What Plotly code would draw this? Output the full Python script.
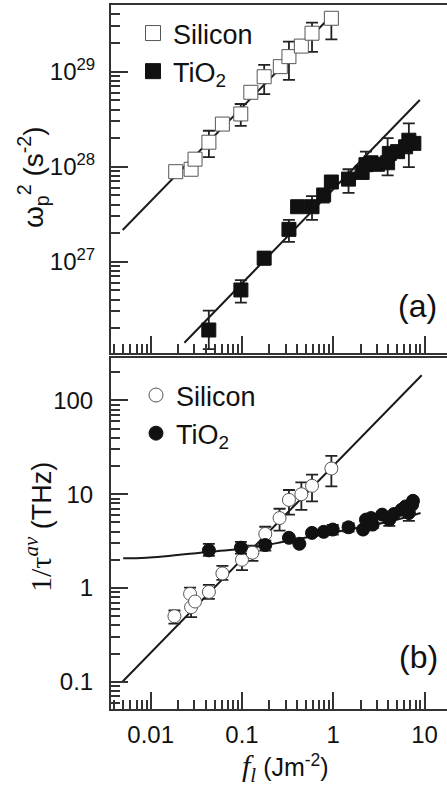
import plotly.graph_objects as go

# ---------------- data ----------------
# panel (a): plasma frequency squared (s^-2) vs fluence (J m^-2)
si_a_x = [0.0188, 0.0277, 0.0306, 0.0434, 0.061, 0.097, 0.125, 0.175, 0.263, 0.327, 0.447, 0.585, 0.953]
si_a_y = [8.86e27, 9.4e27, 1.2e28, 1.81e28, 2.81e28, 3.59e28, 6.07e28, 8.85e28, 1.13e29, 1.44e29, 1.86e29, 2.54e29, 3.65e29]
si_a_hi = [None, None, None, 2.39e28, None, 4.57e28, 6.7e28, 1.18e29, None, 2.07e29, None, 3.28e29, None]
si_a_lo = [None, None, None, 1.26e28, None, 2.69e28, None, 5.8e28, None, 8.2e28, None, 1.62e29, 2.19e29]

ti_a_x = [0.0433, 0.0973, 0.175, 0.327, 0.407, 0.585, 0.785, 0.953, 1.47, 2.07, 2.28, 2.59, 3.06,
          3.94, 4.11, 5.07, 6.2, 6.73, 7.64]
ti_a_y = [1.91e26, 5.04e26, 1.09e27, 2.19e27, 3.79e27, 3.79e27, 5.04e27, 6.9e27, 7.4e27, 8.7e27,
          1.05e28, 1.1e28, 1.06e28, 1.1e28, 1.38e28, 1.44e28, 1.62e28, 1.9e28, 1.76e28]
ti_a_hi = [3.05e26, 6.4e26, 1.25e27, 2.75e27, None, 4.9e27, None, None, 9.4e27, None,
           1.44e28, None, None, 2.0e28, None, None, None, 2.86e28, None]
ti_a_lo = [1.2e26, 3.7e26, 0.93e27, 1.62e27, None, 2.75e27, 4.2e27, None, 5.3e27, None,
           None, None, None, 8.1e27, None, None, None, 9.9e27, None]

# fit lines (a), endpoints
si_a_fit_x = [0.00493, 0.970]
si_a_fit_y = [2.16e27, 3.95e29]
ti_a_fit_x = [0.0234, 8.87]
ti_a_fit_y = [1.40e26, 5.04e28]

# panel (b): scattering rate 1/tau (THz) vs fluence
si_b_x = [0.0182, 0.027, 0.0277, 0.0306, 0.0434, 0.061, 0.1, 0.13, 0.18, 0.258, 0.327, 0.447, 0.585, 0.953]
si_b_y = [0.50, 0.865, 0.624, 0.717, 0.908, 1.43, 2.0, 2.38, 3.77, 5.57, 8.7, 10.0, 12.3, 18.8]
si_b_hi = [0.575, 1.01, None, None, 1.08, 1.72, 2.58, 2.82, 4.5, 7.0, 11.1, 13.4, 16.2, 25.6]
si_b_lo = [0.417, None, 0.49, None, 0.766, 1.22, 1.55, 1.95, 3.03, 4.1, 6.05, 6.8, 8.4, 12.1]

ti_b_x = [0.0434, 0.0973, 0.18, 0.327, 0.425, 0.585, 0.785, 0.987, 1.47, 2.12, 2.28, 2.59, 2.7,
          3.43, 4.11, 4.62, 5.6, 6.2, 6.73, 7.3, 7.47]
ti_b_y = [2.52, 2.69, 2.87, 3.43, 2.96, 3.87, 3.97, 4.2, 4.44, 4.2, 5.36, 5.57, 4.74,
          6.06, 5.36, 6.15, 6.84, 7.41, 6.3, 7.73, 8.5]
ti_b_hi = [2.95, 3.1, 3.2, None, None, 4.15, None, 4.7, 4.9, None, None, None, None,
           None, 6.3, None, None, None, 7.5, None, None]
ti_b_lo = [2.2, 2.32, 2.5, None, None, 3.6, None, 3.7, 4.0, None, None, None, 4.35,
           None, 4.6, None, None, None, 5.2, None, None]

si_b_fit_x = [0.00493, 9.3]
si_b_fit_y = [0.1005, 186.0]
ti_b_fit_x = [0.005, 0.009, 0.0448, 0.123, 0.338, 1.3, 4.6, 9.04]
ti_b_fit_y = [2.07, 2.10, 2.44, 2.68, 3.21, 4.10, 5.24, 6.3]

# axis ticks
x_major = [0.01, 0.1, 1, 10]
x_major_text = ["0.01", "0.1", "1", "10"]
ya_major = [1e27, 1e28, 1e29]
ya_major_text = ["10<sup>27</sup>", "10<sup>28</sup>", "10<sup>29</sup>"]
yb_major = [0.1, 1, 10, 100]
yb_major_text = ["0.1", "1", "10", "100"]


def minors(lo_exp, hi_exp):
    vals = []
    for e in range(lo_exp, hi_exp + 1):
        for m in range(2, 10):
            vals.append(m * 10.0 ** e)
    return vals


def err(vals, bounds, upper):
    out = []
    for v, b in zip(vals, bounds):
        if b is None:
            out.append(0)
        else:
            out.append((b - v) if upper else (v - b))
    return out


SANS = "Liberation Sans, Arial, sans-serif"
INK = "#1a1a1a"

fig = go.Figure()


def add_points(x, y, hi, lo, xa, ya, symbol, filled, size):
    fig.add_trace(go.Scatter(
        x=x, y=y, mode="markers", xaxis=xa, yaxis=ya, showlegend=False,
        marker=dict(symbol=symbol, size=size,
                    color="#111111" if filled else "white",
                    line=dict(color="#111111" if filled else "#555555", width=1)),
        error_y=dict(type="data", symmetric=False,
                     array=err(y, hi, True), arrayminus=err(y, lo, False),
                     color="#222222", thickness=1.8, width=6),
    ))


def add_line(x, y, xa, ya, shape="linear"):
    fig.add_trace(go.Scatter(x=x, y=y, mode="lines", xaxis=xa, yaxis=ya, showlegend=False,
                             line=dict(color=INK, width=2, shape=shape)))


# panel (a)
add_line(si_a_fit_x, si_a_fit_y, "x", "y")
add_line(ti_a_fit_x, ti_a_fit_y, "x", "y")
add_points(si_a_x, si_a_y, si_a_hi, si_a_lo, "x", "y", "square", False, 14)
add_points(ti_a_x, ti_a_y, ti_a_hi, ti_a_lo, "x", "y", "square", True, 14)
# panel (b)
add_line(si_b_fit_x, si_b_fit_y, "x2", "y2")
add_line(ti_b_fit_x, ti_b_fit_y, "x2", "y2", shape="spline")
add_points(si_b_x, si_b_y, si_b_hi, si_b_lo, "x2", "y2", "circle", False, 13)
add_points(ti_b_x, ti_b_y, ti_b_hi, ti_b_lo, "x2", "y2", "circle", True, 13)

# legend entries
fig.add_trace(go.Scatter(x=[None], y=[None], mode="markers", name="Silicon", legend="legend",
                         marker=dict(symbol="square", size=15, color="white", line=dict(color="#555555", width=1))))
fig.add_trace(go.Scatter(x=[None], y=[None], mode="markers", name="TiO<sub>2</sub>", legend="legend",
                         marker=dict(symbol="square", size=15, color="#111111", line=dict(color="#111111", width=1))))
fig.add_trace(go.Scatter(x=[None], y=[None], mode="markers", name="Silicon", legend="legend2",
                         xaxis="x2", yaxis="y2",
                         marker=dict(symbol="circle", size=14, color="white", line=dict(color="#555555", width=1))))
fig.add_trace(go.Scatter(x=[None], y=[None], mode="markers", name="TiO<sub>2</sub>", legend="legend2",
                         xaxis="x2", yaxis="y2",
                         marker=dict(symbol="circle", size=14, color="#111111", line=dict(color="#111111", width=1))))

H = 791.0
W_PLOT = 336.0
xr = [-2.435, 1.246]

common_x = dict(type="log", range=xr, showgrid=False, zeroline=False, showline=True, mirror=True,
                linecolor="#333333", linewidth=2, ticks="inside", ticklen=17, tickwidth=1.5,
                tickcolor="#333333", tickvals=x_major, ticktext=x_major_text,
                minor=dict(tickmode="array", tickvals=minors(-3, 0), ticks="inside", ticklen=9,
                           tickwidth=1.5, tickcolor="#333333", showgrid=False))
common_y = dict(type="log", showgrid=False, zeroline=False, showline=True, mirror=False,
                linecolor="#333333", linewidth=2, ticks="inside", ticklen=17, tickwidth=1.5,
                tickcolor="#333333",
                minor=dict(ticks="inside", ticklen=9, tickwidth=1.5, tickcolor="#333333", showgrid=False,
                           tickmode="array"))

xa = dict(common_x, anchor="y", showticklabels=False)
xb = dict(common_x, anchor="y2", showticklabels=True, tickfont=dict(size=24, family=SANS, color="#111"),
          ticklabelstandoff=3)
ya = dict(common_y, anchor="x", domain=[1 - 353 / H, 1 - 5 / H], range=[26.039, 29.702],
          tickvals=ya_major, ticktext=ya_major_text, tickfont=dict(size=24, family=SANS, color="#111"),
          ticklabelstandoff=9)
ya["minor"] = dict(common_y["minor"], tickvals=minors(26, 29))
yb = dict(common_y, anchor="x2", domain=[1 - 709.3 / H, 1 - 358 / H], range=[-1.294, 2.453],
          tickvals=yb_major, ticktext=yb_major_text, tickfont=dict(size=24, family=SANS, color="#111"),
          ticklabelstandoff=11)
yb["minor"] = dict(common_y["minor"], tickvals=minors(-2, 2))


def px_x(px):
    return (px - 111) / W_PLOT


def px_y(py):
    return 1 - py / H


annotations = [
    dict(text="ω<sub>p</sub><sup>2</sup> (s<sup>-2</sup>)", x=px_x(33), y=px_y(177), textangle=-90,
         font=dict(size=28, family=SANS, color="#111")),
    dict(text='<span style="font-family:Liberation Serif;font-size:30px">1/τ<sup><i>av</i></sup></span> (THz)',
         x=px_x(38), y=px_y(527), textangle=-90, font=dict(size=27, family=SANS, color="#111")),
    dict(text='<span style="font-family:Liberation Serif;font-size:30px"><i>f</i><sub><i>l</i></sub></span> (Jm<sup>-2</sup>)',
         x=px_x(285), y=px_y(768), font=dict(size=25, family=SANS, color="#111")),
    dict(text="(a)", x=px_x(417), y=px_y(306), font=dict(size=32, family=SANS, color="#111")),
    dict(text="(b)", x=px_x(418), y=px_y(657), font=dict(size=32, family=SANS, color="#111")),
]
for a in annotations:
    a.update(xref="paper", yref="paper", showarrow=False, xanchor="center", yanchor="middle")

fig.update_layout(
    width=447, height=791,
    margin=dict(l=111, r=0, t=0, b=0),
    paper_bgcolor="white", plot_bgcolor="white",
    xaxis=xa, yaxis=ya, xaxis2=xb, yaxis2=yb,
    annotations=annotations,
    legend=dict(x=px_x(133), y=px_y(9), xanchor="left", yanchor="top", bgcolor="rgba(0,0,0,0)",
                font=dict(size=27, family=SANS, color="#111"), itemwidth=30, tracegroupgap=0),
    legend2=dict(x=px_x(136), y=px_y(371), xanchor="left", yanchor="top", bgcolor="rgba(0,0,0,0)",
                 font=dict(size=27, family=SANS, color="#111"), itemwidth=30, tracegroupgap=0),
)

fig.write_html("out.html", config={"displayModeBar": False},
               post_script="document.body.style.margin='0';document.body.style.overflow='hidden';")
